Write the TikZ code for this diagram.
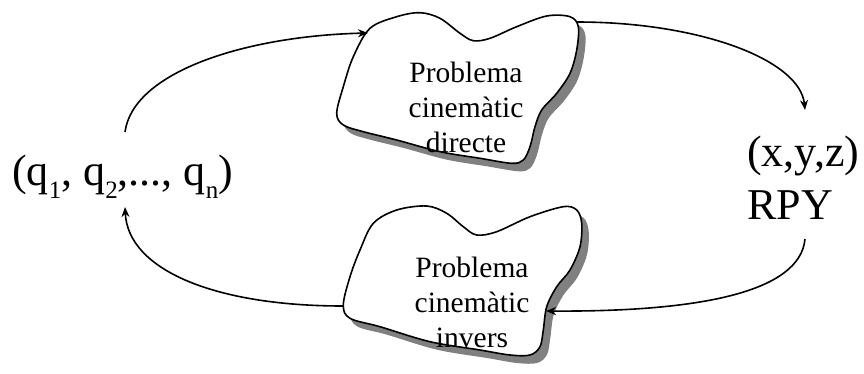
\documentclass[tikz,border=0pt]{standalone}
\usepackage{fontspec}
\setmainfont{Liberation Serif}
\usetikzlibrary{arrows.meta}

% outlines of the two cloud-like boxes
\newcommand\directoutline{plot[smooth cycle,tension=0.55] coordinates {
  (370,28.3) (396.7,16.7) (420,12.7) (440,18.3) (460,33.3) (473.3,40.7)
  (490,38.3) (516.7,26.7) (546.7,16) (570,16.7) (578.3,26.7) (576.7,50)
  (570,73.3) (556.7,93.3) (541.7,110) (535,126.7) (530,146.7) (523.3,160)
  (511.7,163.3) (480,158.3) (440,151.7) (396.7,140) (363.3,131.7)
  (343.3,125) (336.7,113.3) (343.3,86.7) (353.3,56.7)}}
\newcommand\inversoutline{plot[smooth cycle,tension=0.55] coordinates {
  (373.3,223.3) (396.7,210) (426.7,206) (446.7,213.3) (463.3,226.7)
  (476.7,235) (496.7,231.7) (530,216.7) (563.3,206.7) (576.7,210)
  (581.7,223.3) (580,246.7) (570,270) (556.7,286.7) (546.7,306.7)
  (543.3,330) (540,346.7) (530,355) (510,355) (480,350) (430,341.7)
  (380,326.7) (350,318.3) (343.3,305) (350,276.7) (360,250)}}

\begin{document}
\begin{tikzpicture}[x=1pt,y=-1pt,
  conn/.style={line width=1.6pt,-{Stealth[length=10pt,width=8pt]}},
  blob/.style={draw=black,line width=1.6pt,fill=white},
  blobshadow/.style={fill=black!50,shift={(7,8)}},
  bigtext/.style={inner sep=0pt,font=\fontsize{44}{53}\selectfont},
  blobtext/.style={inner sep=0pt,align=center,font=\fontsize{29.5}{35}\selectfont}]
\useasboundingbox (0,0) rectangle (864,373);

% shaded boxes
\path[blobshadow] \directoutline;
\path[blob] \directoutline;
\path[blobshadow] \inversoutline;
\path[blob] \inversoutline;

% texts
\node[blobtext,anchor=north] (direct) at (466,62) {Problema\\cinemàtic\\directe};
\node[blobtext,anchor=north] (invers) at (472,257) {Problema\\cinemàtic\\invers};
\node[bigtext,anchor=base west] (joints) at (12,185)
  {(q\raisebox{-13pt}{\fontsize{25}{25}\selectfont 1}, q\raisebox{-13pt}{\fontsize{25}{25}\selectfont 2},..., q\raisebox{-13pt}{\fontsize{25}{25}\selectfont n})};
\node[bigtext,anchor=north west,align=left] (pose) at (747,136) {(x,y,z)\\RPY};

% connector ends
\coordinate (qtop) at (125,132);
\coordinate (qbot) at (125,207);
\coordinate (dIn) at (368,33);
\coordinate (dOut) at (577,22);
\coordinate (iIn) at (546,311);
\coordinate (iOut) at (343,306);
\coordinate (pTop) at (805,110);
\coordinate (pBot) at (805,239);

% connectors
\draw[conn] (qtop) .. controls (133,72) and (245,36) .. (dIn);
\draw[conn] (dOut) .. controls (700,22) and (800,60) .. (pTop);
\draw[conn] (pBot) .. controls (800,292) and (700,312) .. (iIn);
\draw[conn] (iOut) .. controls (215,306) and (128,270) .. (qbot);
\end{tikzpicture}
\end{document}
